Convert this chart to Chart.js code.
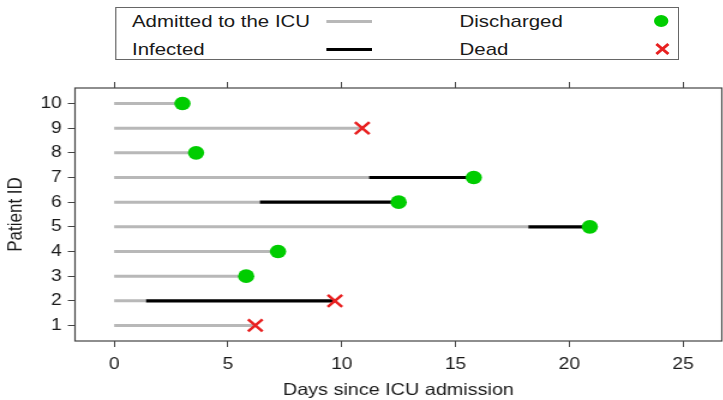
<!doctype html>
<html lang="en">
<head>
<meta charset="utf-8">
<title>ICU patients timeline</title>
<script src="https://cdn.jsdelivr.net/npm/chart.js"></script>
<style>
  html, body { margin: 0; padding: 0; background: #fff; }
  /* the reference is drawn horizontally stretched, so the whole figure is scaled in x */
  #wrap { position: relative; width: 603px; height: 400px; transform: scaleX(1.2); transform-origin: 0 0;
          font-family: "Liberation Sans", Arial, sans-serif; color: #1a1a1a; }
  #chart { position: absolute; left: 0; top: 0; }
  #legend { position: absolute; left: 96px; top: 7px; width: 470px; height: 53px; box-sizing: border-box;
            border: 1px solid #666; background: #fff; }
  .txt { position: absolute; font-size: 17px; line-height: 20px; white-space: nowrap; }
  .seg { position: absolute; left: 175px; width: 38px; height: 3px; }
  .sym { position: absolute; left: 448px; }
</style>
</head>
<body>
<div id="wrap">
  <canvas id="chart" width="603" height="400" style="width:603px;height:400px"></canvas>
  <div id="legend">
    <span class="txt" style="left:13px;top:4px">Admitted to the ICU</span>
    <div class="seg" style="top:12px;background:#b8b8b8"></div>
    <span class="txt" style="left:286px;top:4px">Discharged</span>
    <div class="sym" style="top:7px;width:12px;height:12px;border-radius:50%;background:#00cd00"></div>

    <span class="txt" style="left:13px;top:32px">Infected</span>
    <div class="seg" style="top:40px;background:#000"></div>
    <span class="txt" style="left:286px;top:32px">Dead</span>
    <svg class="sym" style="top:34px" width="14" height="14"><path d="M2 2L12 12M12 2L2 12" stroke="#e82020" stroke-width="2.5"/></svg>
  </div>
</div>

<script>
  // patient data (days since ICU admission)
  const patientIds   = [1, 2, 3, 4, 5, 6, 7, 8, 9, 10];
  const infectedFrom = [null, 1.4, null, null, 18.2, 6.4, 11.2, null, null, null];
  const outcomeDay   = [6.2, 9.7, 5.8, 7.2, 20.9, 12.5, 15.8, 3.6, 10.9, 3.0];
  const outcome      = ['Dead', 'Dead', 'Discharged', 'Discharged', 'Discharged',
                        'Discharged', 'Discharged', 'Discharged', 'Dead', 'Discharged'];
  const xTicks = [0, 5, 10, 15, 20, 25];

  const font = '"Liberation Sans", Arial, sans-serif';
  const ink = '#1a1a1a';
  const axisCol = '#444';

  // line segments, broken with null points
  const admitted = [];
  const infected = [];
  const discharged = [];
  const dead = [];
  patientIds.forEach((id, i) => {
    const stop = infectedFrom[i] !== null ? infectedFrom[i] : outcomeDay[i];
    admitted.push({x: 0, y: id}, {x: stop, y: id}, {x: 0, y: null});
    if (infectedFrom[i] !== null) {
      infected.push({x: infectedFrom[i], y: id}, {x: outcomeDay[i], y: id}, {x: 0, y: null});
    }
    if (outcome[i] === 'Discharged') discharged.push({x: outcomeDay[i], y: id});
    else dead.push({x: outcomeDay[i], y: id});
  });

  const frame = {
    id: 'frame',
    afterDatasetsDraw(chart) {
      const a = chart.chartArea, ctx = chart.ctx;
      ctx.save();
      ctx.strokeStyle = axisCol;
      ctx.lineWidth = 1.2;
      ctx.strokeRect(a.left, a.top, a.right - a.left, a.bottom - a.top);
      ctx.restore();
    }
  };

  const xMin = -1.72, xMax = 26.7;
  const noSidePad = s => { s.paddingLeft = 0; s.paddingRight = 0; };

  new Chart(document.getElementById('chart'), {
    type: 'scatter',
    data: {
      datasets: [
        { label: 'Discharged', data: discharged, pointStyle: 'circle', pointRadius: 6.8,
          backgroundColor: '#00cd00', borderWidth: 0, order: 1 },
        { label: 'Dead', data: dead, pointStyle: 'crossRot', pointRadius: 8.5,
          borderColor: '#e82020', backgroundColor: '#e82020', borderWidth: 2.5, order: 2 },
        { label: 'Infected', data: infected, showLine: true, pointRadius: 0,
          borderColor: '#000', borderWidth: 3.2, borderCapStyle: 'butt', order: 3 },
        { label: 'Admitted to the ICU', data: admitted, showLine: true, pointRadius: 0,
          borderColor: '#b8b8b8', borderWidth: 3, borderCapStyle: 'butt', order: 4 }
      ]
    },
    options: {
      responsive: false,
      devicePixelRatio: 1,
      animation: false,
      layout: { autoPadding: false, padding: { top: 82, right: 1.5, left: 0, bottom: 0 } },
      plugins: { legend: { display: false }, tooltip: { enabled: false } },
      scales: {
        x: {
          type: 'linear', position: 'bottom', min: xMin, max: xMax,
          afterBuildTicks: s => { s.ticks = xTicks.map(v => ({value: v})); },
          afterFit: s => { s.height = 59; noSidePad(s); },
          ticks: { color: ink, font: { family: font, size: 16 }, padding: 8, maxRotation: 0 },
          grid: { drawOnChartArea: false, tickLength: 6, color: axisCol },
          border: { display: false },
          title: { display: true, text: 'Days since ICU admission', color: ink,
                   font: { family: font, size: 16.5 }, padding: { top: 0, bottom: 0 } }
        },
        xTop: {
          type: 'linear', axis: 'x', position: 'top', min: xMin, max: xMax,
          afterBuildTicks: s => { s.ticks = xTicks.map(v => ({value: v})); },
          afterFit: s => { s.height = 6; noSidePad(s); },
          ticks: { display: false },
          grid: { drawOnChartArea: false, tickLength: 6, color: axisCol },
          border: { display: false }
        },
        y: {
          type: 'linear', min: 0.37, max: 10.63,
          afterBuildTicks: s => { s.ticks = patientIds.map(v => ({value: v})); },
          afterFit: s => { s.width = 62.5; },
          ticks: { color: ink, font: { family: font, size: 16 }, padding: 5 },
          grid: { drawOnChartArea: false, tickLength: 6, color: axisCol },
          border: { display: false },
          title: { display: true, text: 'Patient ID', color: ink,
                   font: { family: font, size: 17 }, padding: { top: 3, bottom: 0 } }
        }
      }
    },
    plugins: [frame]
  });
</script>
</body>
</html>
